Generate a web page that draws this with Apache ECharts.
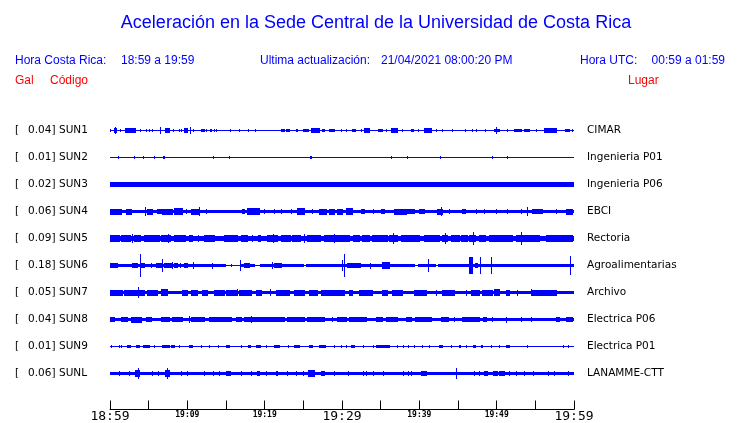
<!DOCTYPE html>
<html>
<head>
<meta charset="utf-8">
<script src="https://cdn.jsdelivr.net/npm/echarts@6/dist/echarts.min.js"></script>
<style>html,body{margin:0;padding:0;background:#fff}#chart{width:740px;height:423px}</style>
</head>
<body>
<div id="chart"></div>
<script>
// ---------- DATA ----------
const stations = ['SUN1','SUN2','SUN3','SUN4','SUN5','SUN6','SUN7','SUN8','SUN9','SUNL'];
const galMax = [0.04,0.01,0.02,0.06,0.09,0.18,0.05,0.04,0.01,0.06];
const places = ['CIMAR','Ingenieria P01','Ingenieria P06','EBCI','Rectoria','Agroalimentarias','Archivo','Electrica P06','Electrica P01','LANAMME-CTT'];
// continuous background noise level of each trace (relative amplitude, 1 = largest excursion)
const noiseLevel = [0.083,0.042,0.167,0.125,0.208,0.042,0.146,0.146,0.042,0.146];
// bursts: [start minute, end minute, relative amplitude] (minutes after 18:59)
const burstsSUN1 = [[0.1,0.1,0.12],[0.6,0.9,0.17],[0.7,0.7,0.26],[1.34,1.34,0.15],[2.0,2.55,0.17],[2.7,3.3,0.17],[3.97,3.97,0.12],[4.75,4.75,0.15],[5.13,5.13,0.15],[5.52,5.52,0.12],[6.56,6.56,0.26],[7.2,7.7,0.17],[8.24,8.24,0.12],[9.0,9.0,0.12],[9.27,9.27,0.15],[9.66,10.05,0.17],[10.44,10.44,0.26],[10.82,10.82,0.15],[11.86,12.25,0.16],[12.5,12.5,0.12],[13.0,13.15,0.15],[13.54,13.54,0.12],[13.8,13.8,0.12],[15.6,15.6,0.1],[16.77,16.77,0.15],[17.93,17.93,0.12],[18.84,18.84,0.1],[22.2,22.6,0.15],[22.85,23.24,0.16],[24.14,24.27,0.15],[25.05,25.7,0.16],[26.08,27.12,0.17],[27.5,27.77,0.16],[28.4,29.05,0.15],[29.96,29.96,0.12],[30.6,30.6,0.12],[31.38,31.77,0.16],[32.55,32.55,0.12],[32.94,33.59,0.17],[34.75,35.27,0.15],[35.78,35.78,0.12],[36.43,37.2,0.17],[37.85,37.85,0.12],[39.02,39.28,0.15],[39.92,39.92,0.12],[40.7,41.6,0.17],[42.26,42.26,0.12],[43.03,43.03,0.12],[44.33,44.33,0.1],[46.0,46.0,0.12],[46.93,46.93,0.12],[47.43,47.43,0.1],[48.6,48.6,0.12],[49.76,50.4,0.16],[50.0,50.0,0.26],[51.43,51.43,0.12],[52.33,53.24,0.16],[53.62,54.27,0.15],[55.18,55.18,0.12],[56.2,57.77,0.17],[58.93,59.44,0.16],[59.83,59.83,0.12]];
const burstsSUN2 = [[1.16,1.16,0.1],[3.19,3.19,0.12],[4.32,4.32,0.12],[5.69,5.69,0.12],[6.9,7.1,0.12],[13.41,13.41,0.1],[15.48,15.48,0.1],[25.9,26.1,0.15],[36.43,36.43,0.1],[38.5,38.5,0.1],[42.76,42.76,0.12],[49.49,49.49,0.1],[51.43,51.43,0.12]];
const burstsSUN3 = [[21.2,21.2,0.22],[31.6,31.6,0.22]];
const burstsSUN4 = [[0,0.87,0.25],[1.0,1.5,0.25],[2.16,2.81,0.25],[4.62,4.62,0.36],[4.88,5.52,0.25],[6.17,6.69,0.22],[6.81,8.11,0.25],[8.37,9.4,0.29],[9.92,9.92,0.22],[10.57,11.6,0.25],[11.51,11.51,0.36],[12.5,12.5,0.22],[17.16,17.42,0.22],[17.8,19.4,0.27],[20.0,20.0,0.22],[21.3,21.3,0.22],[22.2,22.2,0.22],[23.5,23.5,0.22],[24.27,25.18,0.27],[26.2,26.2,0.22],[27.12,28.03,0.25],[28.4,29.05,0.25],[29.45,30.09,0.25],[30.6,31.38,0.27],[32.55,32.94,0.22],[34.1,34.1,0.22],[35.1,35.5,0.22],[36.8,38.4,0.25],[38.5,39.4,0.22],[40.05,40.7,0.22],[42.38,43.03,0.25],[42.9,42.9,0.36],[43.9,43.9,0.22],[45.6,46.0,0.22],[47.43,47.43,0.22],[48.47,48.47,0.22],[50.0,50.0,0.22],[51.43,51.43,0.22],[53.24,53.24,0.22],[54.0,54.0,0.38],[54.66,55.96,0.22],[57.77,57.77,0.22],[59.06,59.83,0.25]];
const burstsSUN5 = [[0,1.25,0.29],[1.47,2.77,0.29],[2.97,2.97,0.38],[3.19,4.06,0.27],[4.49,6.43,0.3],[6.65,7.94,0.3],[7.5,7.5,0.4],[8.37,9.88,0.29],[10.31,10.73,0.29],[11.38,11.38,0.27],[12.25,13.54,0.27],[14.83,16.55,0.27],[16.99,17.85,0.27],[18.49,18.49,0.27],[19.14,19.58,0.27],[20.43,21.72,0.33],[21.08,21.08,0.4],[22.16,23.46,0.29],[23.66,24.75,0.29],[25.18,25.18,0.38],[25.6,27.34,0.27],[27.76,30.35,0.3],[29.05,29.05,0.38],[29.7,31.0,0.29],[31.43,32.3,0.27],[32.7,33.58,0.27],[34.0,35.95,0.27],[36.17,37.24,0.33],[36.6,36.6,0.42],[37.68,40.05,0.29],[40.7,42.63,0.27],[43.06,43.71,0.33],[43.41,43.41,0.42],[44.15,45.22,0.27],[45.44,46.3,0.27],[46.5,47.38,0.33],[46.94,46.94,0.54],[47.8,48.67,0.27],[49.1,52.11,0.27],[52.55,55.57,0.27],[53.2,53.2,0.56],[56.43,59.87,0.29]];
const burstsSUN6 = [[0,15.0,0.125],[16.9,18.8,0.125],[19.4,25.05,0.125],[25.4,39.4,0.125],[39.9,42.2,0.125],[42.5,60,0.125],[0,1.0,0.2],[2.94,3.58,0.2],[3.97,3.97,1.0],[4.1,4.49,0.2],[5.4,5.4,0.18],[6.0,6.7,0.18],[6.81,6.81,0.58],[7.07,7.98,0.2],[8.1,8.1,0.33],[8.37,8.75,0.18],[9.14,9.14,0.18],[9.66,10.05,0.18],[10.82,10.82,0.33],[13.28,13.28,0.25],[15.74,15.74,0.15],[16.9,16.9,0.42],[17.4,18.07,0.2],[21.04,21.04,0.33],[21.3,22.2,0.18],[30.09,30.09,0.42],[30.35,30.35,1.0],[30.7,32.5,0.2],[33.71,33.71,0.25],[35.27,36.17,0.33],[41.2,41.2,0.58],[46.5,46.9,0.67],[47.2,47.55,0.2],[47.94,47.94,0.67],[49.36,49.36,0.67],[59.57,59.57,0.83]];
const burstsSUN7 = [[0,1.64,0.25],[1.9,2.94,0.25],[3.07,4.49,0.25],[3.71,3.71,0.42],[4.88,6.17,0.25],[6.7,7.46,0.33],[9.4,10.05,0.25],[10.57,11.34,0.25],[11.99,12.63,0.25],[13.54,14.83,0.25],[15.09,16.38,0.25],[16.51,16.51,0.33],[16.77,18.32,0.25],[18.97,19.62,0.25],[20.78,20.78,0.33],[21.55,23.24,0.25],[23.88,25.18,0.25],[25.83,26.86,0.25],[27.38,30.35,0.25],[30.99,31.38,0.25],[32.29,33.97,0.25],[35.27,35.91,0.25],[36.56,37.85,0.25],[39.4,40.95,0.25],[42.26,42.26,0.25],[43.03,44.58,0.25],[46.13,46.13,0.25],[46.77,47.8,0.25],[48.18,49.49,0.25],[49.75,50.4,0.33],[51.3,51.69,0.25],[52.72,52.72,0.25],[54.53,54.53,0.33],[54.66,57.77,0.25]];
const burstsSUN8 = [[0,0.61,0.21],[1.51,2.29,0.21],[2.81,4.1,0.25],[4.75,5.39,0.21],[6.69,7.72,0.21],[8.11,9.4,0.21],[10.3,10.3,0.29],[10.57,12.25,0.21],[12.89,15.74,0.21],[16.38,17.03,0.21],[17.42,18.97,0.21],[18.3,18.3,0.29],[19.1,22.59,0.21],[22.98,25.18,0.21],[25.57,27.77,0.21],[28.8,28.8,0.21],[29.45,30.6,0.21],[30.99,33.2,0.21],[34.49,35.27,0.21],[35.78,37.2,0.21],[38.37,39.02,0.21],[39.53,41.6,0.21],[42.9,43.9,0.21],[44.58,44.58,0.21],[45.6,47.8,0.21],[48.3,48.8,0.21],[49.49,49.49,0.21],[51.3,51.3,0.25],[53.24,53.24,0.21],[54.53,54.53,0.21],[57.77,58.17,0.21],[59.06,59.83,0.21]];
const burstsSUN9 = [[0.18,0.18,0.12],[1.25,1.25,0.12],[1.47,1.47,0.12],[2.29,2.77,0.15],[3.41,3.84,0.15],[4.27,5.13,0.15],[5.78,5.78,0.12],[6.85,7.72,0.15],[7.94,8.37,0.15],[9.01,9.01,0.12],[10.31,10.73,0.15],[11.82,11.82,0.12],[12.89,12.89,0.12],[13.97,13.97,0.12],[15.05,15.48,0.15],[16.99,16.99,0.12],[17.85,18.28,0.15],[18.93,19.58,0.15],[20.22,20.22,0.12],[21.3,21.94,0.15],[23.02,23.02,0.12],[23.88,24.53,0.15],[25.82,26.25,0.15],[27.12,27.98,0.15],[29.06,29.06,0.12],[29.92,29.92,0.12],[30.57,30.57,0.12],[31.22,31.65,0.15],[32.72,32.72,0.12],[34.01,34.01,0.12],[34.45,36.17,0.15],[37.24,37.24,0.12],[37.89,37.89,0.12],[38.54,38.54,0.12],[39.4,39.4,0.12],[40.4,40.4,0.12],[41.34,41.34,0.12],[42.63,43.06,0.15],[44.15,44.15,0.12],[45.22,45.44,0.15],[46.09,46.09,0.12],[46.94,47.38,0.15],[48.03,48.23,0.15],[49.32,49.32,0.12],[50.39,50.39,0.12],[51.26,51.69,0.15],[54.05,54.05,0.12],[58.58,58.58,0.12],[59.23,59.23,0.12]];
const burstsSUNL = [[1.25,1.25,0.21],[2.55,2.55,0.21],[3.28,3.93,0.3],[3.71,3.71,0.42],[5.56,5.56,0.21],[6.21,6.21,0.21],[7.2,7.81,0.3],[7.46,7.46,0.42],[9.23,9.23,0.21],[10.01,10.01,0.21],[12.16,12.16,0.21],[13.32,13.32,0.21],[14.19,14.19,0.21],[15.05,15.7,0.21],[16.99,16.99,0.21],[18.28,18.28,0.21],[19.06,19.36,0.21],[20.3,20.3,0.21],[21.52,21.72,0.21],[22.94,22.94,0.21],[24.1,24.1,0.21],[24.96,24.96,0.21],[25.7,26.47,0.3],[27.34,27.77,0.21],[29.06,29.06,0.21],[30.78,30.78,0.21],[32.72,32.72,0.21],[33.16,33.16,0.21],[34.01,34.01,0.21],[35.43,35.43,0.21],[37.89,37.89,0.21],[38.54,38.54,0.21],[38.98,38.98,0.21],[40.27,40.99,0.21],[44.8,44.8,0.42],[47.16,47.16,0.21],[47.8,47.8,0.21],[48.45,48.88,0.21],[49.53,50.17,0.21],[50.39,51.04,0.21],[51.69,51.69,0.21],[52.55,52.55,0.21],[53.63,53.63,0.21],[54.7,54.7,0.21],[56.64,56.64,0.21],[57.51,57.51,0.21],[59.23,59.23,0.21]];
const bursts = [burstsSUN1,burstsSUN2,burstsSUN3,burstsSUN4,burstsSUN5,burstsSUN6,burstsSUN7,burstsSUN8,burstsSUN9,burstsSUNL];
const tickLabels = ['18:59','','19:09','','19:19','','19:29','','19:39','','19:49','','19:59'];
const majorLabels = ['18:59','19:29','19:59'];
const titleText = 'Aceleración en la Sede Central de la Universidad de Costa Rica';
const crTime = '18:59 a 19:59';
const utcTime = '00:59 a 01:59';
const updated = '21/04/2021 08:00:20 PM';

// ---------- CHART ----------
const BLUE = '#0000ff';
const AMP_SCALE = 0.4444; // trace-spacing units per unit of relative amplitude
const chart = echarts.init(document.getElementById('chart'), null, {renderer: 'canvas'});

const traceData = [];
stations.forEach((s, i) => {
  traceData.push([0, 60, i + 1, noiseLevel[i]]);
  bursts[i].forEach(b => traceData.push([b[0], b[1], i + 1, b[2]]));
});

function renderItem(params, api) {
  const t0 = api.value(0), t1 = api.value(1), row = api.value(2), amp = api.value(3);
  const p0 = api.coord([t0, row]);
  const p1 = api.coord([t1, row]);
  const h = api.size([0, amp * AMP_SCALE])[1];
  const x0 = Math.floor(p0[0]);
  const x1 = Math.max(x0 + 1, Math.round(p1[0]));
  const top = Math.round(p0[1] - h);
  const bot = Math.max(top + 1, Math.round(p0[1] + h));
  return {type: 'rect', shape: {x: x0, y: top, width: x1 - x0, height: bot - top}, style: {fill: BLUE}};
}

const SANS = '"Liberation Sans", Arial, sans-serif';
const DJV = '"DejaVu Sans", sans-serif';
const graphics = [
  {type: 'text', x: 376, y: 23, style: {text: titleText, font: '18px ' + SANS, fill: BLUE, align: 'center', verticalAlign: 'middle'}},
  {type: 'text', x: 15, y: 61, style: {text: 'Hora Costa Rica:', font: '12px ' + SANS, fill: BLUE, verticalAlign: 'middle'}},
  {type: 'text', x: 121, y: 61, style: {text: crTime, font: '12px ' + SANS, fill: BLUE, verticalAlign: 'middle'}},
  {type: 'text', x: 260, y: 61, style: {text: 'Ultima actualización:', font: '12px ' + SANS, fill: BLUE, verticalAlign: 'middle'}},
  {type: 'text', x: 381, y: 61, style: {text: updated, font: '12px ' + SANS, fill: BLUE, verticalAlign: 'middle'}},
  {type: 'text', x: 580, y: 61, style: {text: 'Hora UTC:', font: '12px ' + SANS, fill: BLUE, verticalAlign: 'middle'}},
  {type: 'text', x: 725, y: 61, style: {text: utcTime, font: '12px ' + SANS, fill: BLUE, align: 'right', verticalAlign: 'middle'}},
  {type: 'text', x: 15, y: 80.5, style: {text: 'Gal', font: '12px ' + SANS, fill: '#ff0000', verticalAlign: 'middle'}},
  {type: 'text', x: 50, y: 80.5, style: {text: 'Código', font: '12px ' + SANS, fill: '#ff0000', verticalAlign: 'middle'}},
  {type: 'text', x: 628, y: 80.5, style: {text: 'Lugar', font: '12px ' + SANS, fill: '#ff0000', verticalAlign: 'middle'}}
];
stations.forEach((s, i) => {
  const y = 130.5 + 27 * i;
  graphics.push({type: 'text', x: 15, y: y, style: {text: '[', font: '10.5px ' + DJV, fill: '#000', verticalAlign: 'middle'}});
  graphics.push({type: 'text', x: 55.5, y: y, style: {text: galMax[i].toFixed(2) + ']', font: '10.5px ' + DJV, fill: '#000', align: 'right', verticalAlign: 'middle'}});
  graphics.push({type: 'text', x: 59, y: y, style: {text: s, font: '10.5px ' + DJV, fill: '#000', verticalAlign: 'middle'}});
  graphics.push({type: 'text', x: 587, y: y, style: {text: places[i], font: '10.5px ' + DJV, fill: '#000', verticalAlign: 'middle'}});
});

chart.setOption({
  animation: false,
  backgroundColor: '#fff',
  grid: {left: 110, width: 464, top: 103.5, bottom: 13.5, containLabel: false},
  xAxis: {
    type: 'value', min: 0, max: 60, interval: 5, position: 'bottom',
    axisLine: {show: true, onZero: false, lineStyle: {color: '#000', width: 1}},
    axisTick: {show: true, inside: true, length: 9, lineStyle: {color: '#000', width: 1}},
    splitLine: {show: false},
    axisLabel: {
      margin: 0, showMinLabel: true, showMaxLabel: true, hideOverlap: false,
      formatter: function (v) {
        const s = tickLabels[Math.round(v / 5)];
        if (!s) return '';
        return majorLabels.indexOf(s) >= 0 ? '{big|' + s + '}' : '{small|' + s + '}';
      },
      rich: {
        big: {fontFamily: '"DejaVu Sans Mono", monospace', fontSize: 13, lineHeight: 14, color: '#000'},
        small: {fontFamily: '"DejaVu Sans Mono", monospace', fontWeight: 'bold', fontSize: 8, lineHeight: 10, color: '#000'}
      }
    }
  },
  yAxis: {type: 'value', min: 0, max: 11.3333, inverse: true, show: false},
  graphic: graphics,
  series: [{
    type: 'custom',
    renderItem: renderItem,
    encode: {x: [0, 1], y: 2},
    data: traceData,
    clip: false,
    silent: true
  }]
});
</script>
</body>
</html>
